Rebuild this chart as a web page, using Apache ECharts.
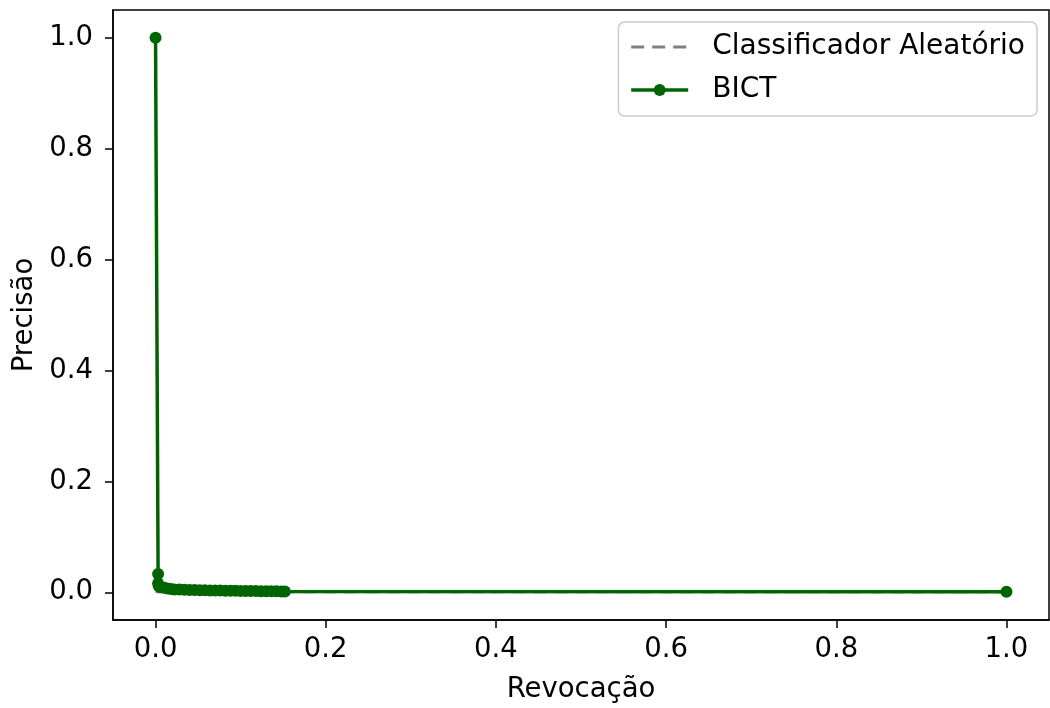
<!DOCTYPE html>
<html>
<head>
<meta charset="utf-8">
<script src="https://cdn.jsdelivr.net/npm/echarts@6/dist/echarts.min.js"></script>
<style>
  html, body { margin: 0; padding: 0; background: #fff; }
  #main { width: 1050px; height: 708px; }
</style>
</head>
<body>
<div id="main"></div>
<script>
// curva precisão x revocação
const recall = [
  0.0, 0.003, 0.003, 0.004, 0.006, 0.010, 0.014, 0.018, 0.022, 0.028,
  0.034, 0.040, 0.046, 0.052, 0.058, 0.064, 0.070, 0.076, 0.082, 0.088,
  0.094, 0.100, 0.106, 0.112, 0.118, 0.124, 0.130, 0.136, 0.142, 0.148,
  0.152, 1.0
]
const precision = [
  1.0, 0.033, 0.016, 0.011, 0.009, 0.008, 0.007, 0.006, 0.005, 0.0048,
  0.0045, 0.0042, 0.004, 0.0038, 0.0036, 0.0034, 0.0032, 0.003, 0.0029, 0.0028,
  0.0026, 0.0025, 0.0024, 0.0022, 0.0021, 0.002, 0.0019, 0.0018, 0.0017, 0.0016,
  0.0015, 0.0008
]
// linha do classificador aleatório (prevalência)
const randomX = [0, 1]
const randomY = [0.0008, 0.0008]
const tickValues = [0, 0.2, 0.4, 0.6, 0.8, 1.0]

const font = 'DejaVu Sans'
const fs = 27.5
const chart = echarts.init(document.getElementById('main'))

const axisCommon = {
  type: 'value',
  min: -0.05,
  max: 1.05,
  nameLocation: 'middle',
  nameTextStyle: { fontFamily: font, fontSize: fs, color: '#000' },
  axisLine: { show: true, onZero: false, lineStyle: { color: '#000', width: 1.5 } },
  axisTick: { show: true, length: 8, lineStyle: { color: '#000', width: 1.5 }, customValues: tickValues },
  axisLabel: {
    fontFamily: font, fontSize: fs, color: '#000',
    customValues: tickValues,
    formatter: (v) => v.toFixed(1)
  },
  splitLine: { show: false }
}

const option = {
  animation: false,
  grid: {
    left: 113, right: 1, top: 10, bottom: 88,
    outerBoundsMode: 'none',
    containLabel: false,
    show: true, borderColor: '#000', borderWidth: 1.5
  },
  xAxis: Object.assign({}, axisCommon, {
    name: 'Revocação', nameGap: 56,
    axisLabel: Object.assign({}, axisCommon.axisLabel, { margin: 16 })
  }),
  yAxis: Object.assign({}, axisCommon, {
    name: 'Precisão', nameGap: 74,
    axisLabel: Object.assign({}, axisCommon.axisLabel, { margin: 20 })
  }),
  legend: {
    orient: 'vertical',
    right: 13,
    top: 22,
    padding: [11, 12, 12, 11],
    itemWidth: 57,
    itemHeight: 15,
    itemGap: 15,
    borderColor: '#cccccc',
    borderWidth: 1.5,
    borderRadius: 6,
    textStyle: { fontFamily: font, fontSize: 28, color: '#000', padding: [0, 0, 0, 19] },
    data: [
      { name: 'Classificador Aleatório', itemStyle: { opacity: 0 }, lineStyle: { width: 3, color: '#7f7f7f', type: [13, 8] } },
      { name: 'BICT', lineStyle: { width: 3.5, color: '#006400' } }
    ]
  },
  series: [
    {
      name: 'Classificador Aleatório',
      type: 'line',
      data: randomX.map((x, i) => [x, randomY[i]]),
      showSymbol: false,
      symbol: 'none',
      lineStyle: { color: '#7f7f7f', width: 3, type: [13, 8] },
      itemStyle: { color: '#7f7f7f' }
    },
    {
      name: 'BICT',
      type: 'line',
      data: recall.map((x, i) => [x, precision[i]]),
      symbol: 'circle',
      symbolSize: 12,
      lineStyle: { color: '#006400', width: 3.5 },
      itemStyle: { color: '#006400' }
    }
  ]
}
chart.setOption(option)
</script>
</body>
</html>
